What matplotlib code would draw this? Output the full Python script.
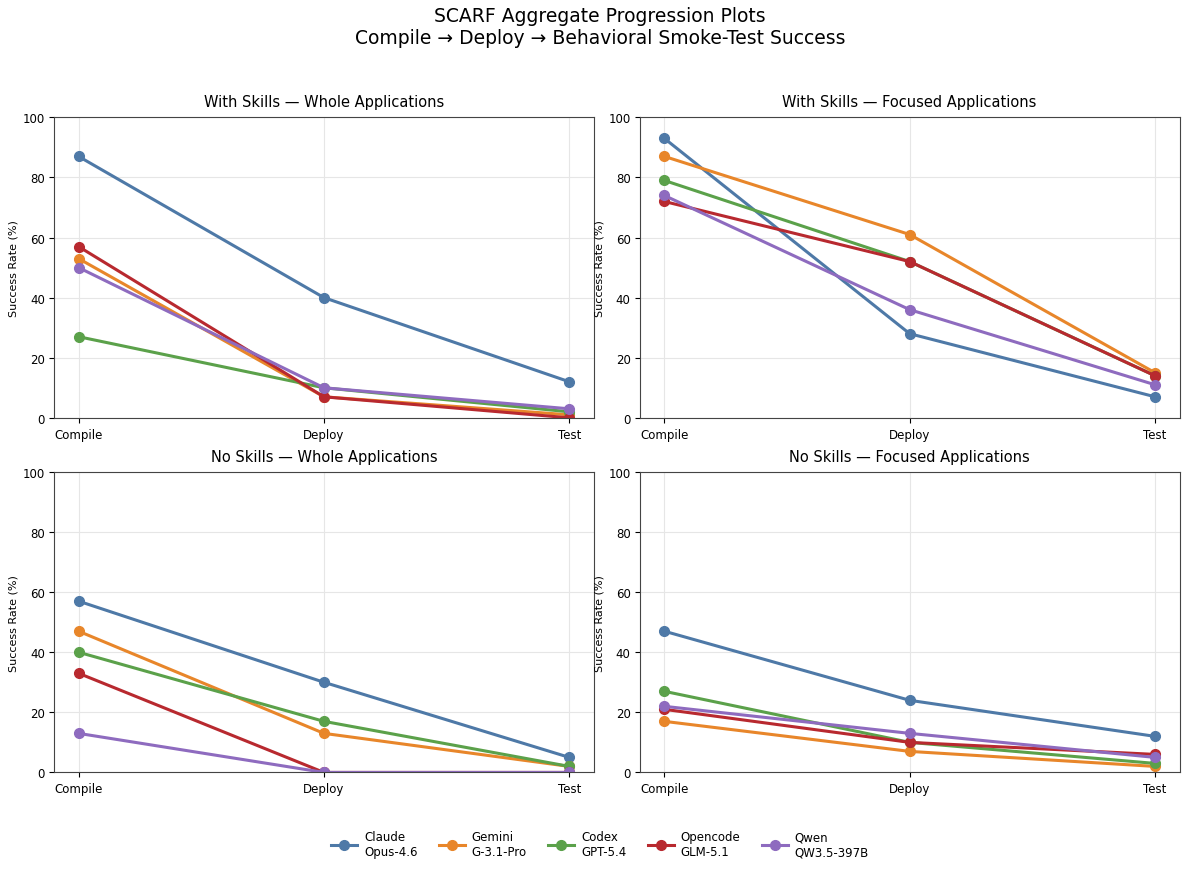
import numpy as np
import matplotlib
matplotlib.use("Agg")
import matplotlib.pyplot as plt

# Этапы и модели
stages = ["Compile", "Deploy", "Test"]
models = ["Claude\nOpus-4.6", "Gemini\nG-3.1-Pro", "Codex\nGPT-5.4", "Opencode\nGLM-5.1", "Qwen\nQW3.5-397B"]
colors = ["#4e79a7", "#e8862a", "#5ba14a", "#b8292f", "#8e6bbf"]

panel_titles = [
    "With Skills — Whole Applications",
    "With Skills — Focused Applications",
    "No Skills — Whole Applications",
    "No Skills — Focused Applications",
]

# Значения успеха (%) для каждой панели: по моделям Compile/Deploy/Test
with_whole = [
    [87, 40, 12],
    [53, 7, 1],
    [27, 10, 2],
    [57, 7, 0],
    [50, 10, 3],
]
with_focused = [
    [93, 28, 7],
    [87, 61, 15],
    [79, 52, 14],
    [72, 52, 14],
    [74, 36, 11],
]
no_whole = [
    [57, 30, 5],
    [47, 13, 2],
    [40, 17, 2],
    [33, 0, 0],
    [13, 0, 0],
]
no_focused = [
    [47, 24, 12],
    [17, 7, 2],
    [27, 10, 3],
    [21, 10, 6],
    [22, 13, 5],
]

panels = [with_whole, with_focused, no_whole, no_focused]

fig, axes = plt.subplots(2, 2, figsize=(12, 8.7), dpi=100)
fig.subplots_adjust(left=0.045, right=0.983, top=0.864, bottom=0.111,
                    wspace=0.085, hspace=0.18)

x = np.arange(len(stages))
for ax, title, data in zip(axes.flat, panel_titles, panels):
    for name, color, vals in zip(models, colors, data):
        ax.plot(x, vals, marker="o", color=color, linewidth=2.2,
                markersize=7, label=name)
    ax.set_title(title, fontsize=10.5, pad=8)
    ax.set_xticks(x)
    ax.set_xticklabels(stages, fontsize=8.5)
    ax.set_xlim(-0.1, 2.1)
    ax.set_ylim(0, 100)
    ax.set_yticks(range(0, 101, 20))
    ax.tick_params(axis="y", labelsize=8.5, pad=3)
    ax.set_ylabel("Success Rate (%)", fontsize=8, labelpad=3)
    ax.grid(True, color="#e6e6e6", linewidth=0.8)
    ax.set_axisbelow(True)
    for sp in ax.spines.values():
        sp.set_color("#444444")

fig.suptitle("SCARF Aggregate Progression Plots\nCompile → Deploy → Behavioral Smoke-Test Success",
             fontsize=13.5, y=0.992)

handles, labels = axes[0, 0].get_legend_handles_labels()
fig.legend(handles, labels, loc="lower center", ncol=5, frameon=False,
           fontsize=8.5, bbox_to_anchor=(0.5, 0.0), handlelength=2.2,
           handletextpad=0.6, columnspacing=1.8)

plt.savefig("out.png", dpi=100)
